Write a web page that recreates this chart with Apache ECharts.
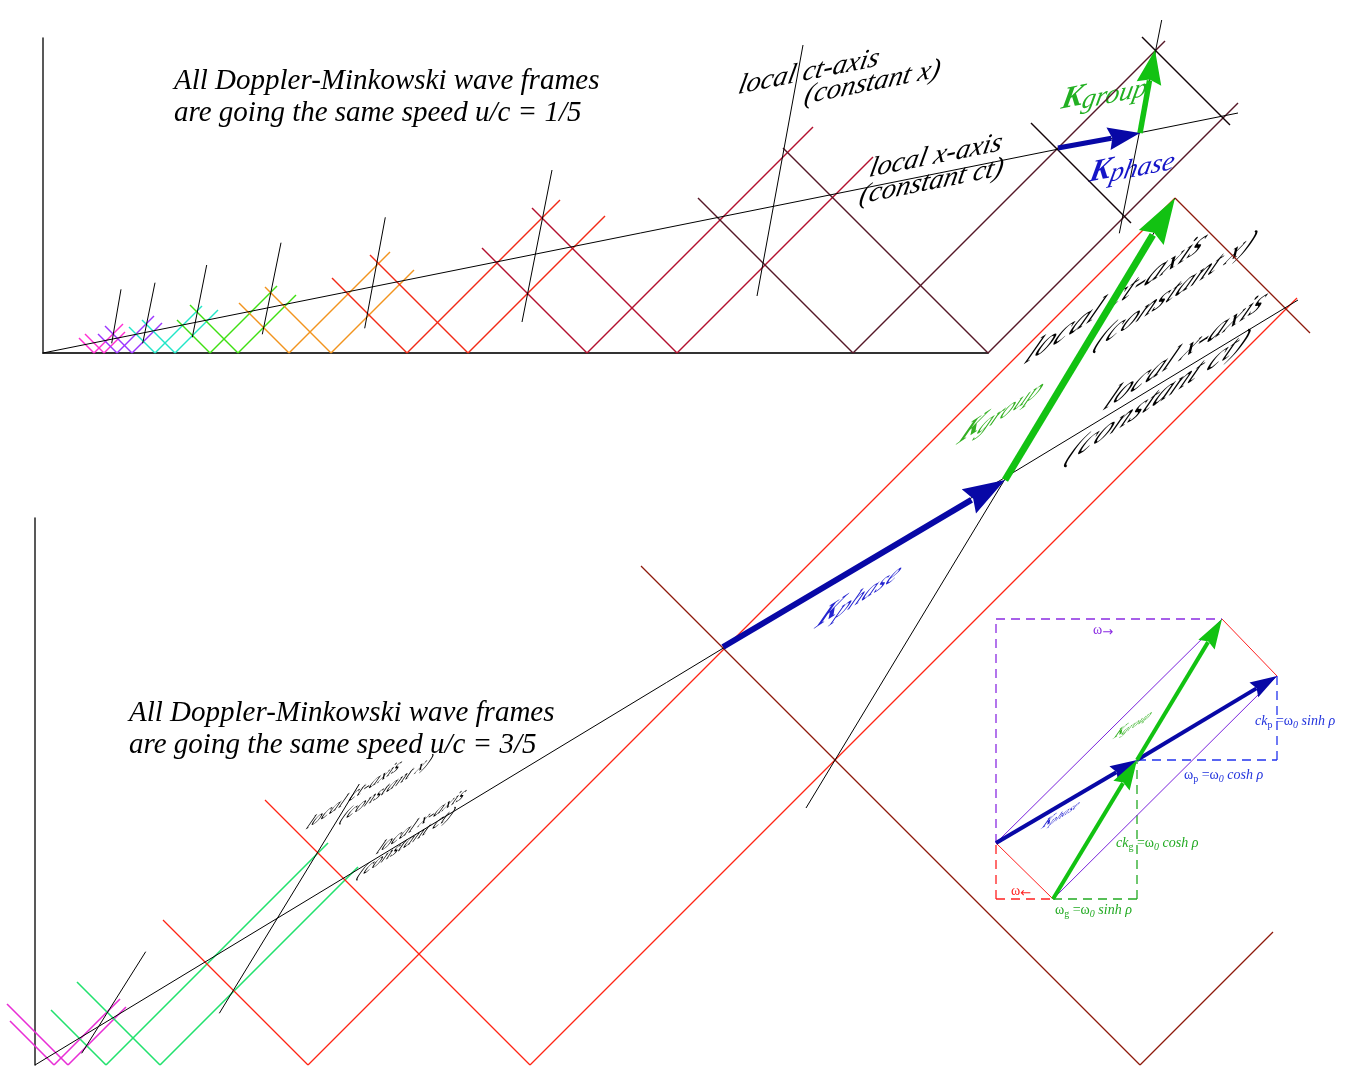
<!DOCTYPE html>
<html>
<head>
<meta charset="utf-8">
<script src="https://cdn.jsdelivr.net/npm/echarts@6/dist/echarts.min.js"></script>
<style>
  html, body { margin: 0; padding: 0; background: #fff; }
  #chart { width: 1353px; height: 1066px; }
</style>
</head>
<body>
<div id="chart"></div>
<script>
// ---------- u/c = 1/5 diagram (units: x and ct from its origin) ----------
// each wave line: [vertex on the x-axis, ct where it starts, ct where it ends]
const slowLeftLines = [
  [[51, 0, 15], [61, 0, 19]],
  [[74, 0, 19], [89, 0, 27]],
  [[112, 0, 26], [132, 0, 33]],
  [[167, 0, 33], [195, 0, 48]],
  [[246, 0, 50], [288, 0, 66]],
  [[364, 0, 75], [425, 0, 98]],
  [[544, 0, 105], [634, 0, 145]],
  [[810, 0, 155], [945, 0, 205]],
  [[1218, 130, 230], [1415, 228, 316]]
];
const slowRightLines = [
  [[51, 0, 29], [61, 0, 21]],
  [[74, 0, 37], [89, 0, 30]],
  [[112, 0, 47], [132, 0, 43]],
  [[167, 0, 67], [195, 0, 58]],
  [[246, 0, 101], [288, 0, 83]],
  [[364, 0, 153], [425, 0, 137]],
  [[544, 0, 226], [634, 0, 196]],
  [[810, 0, 312], [945, 0, 250]],
  []
];
// local ct-axes and the local x-axis: [x1, ct1, x2, ct2]
const slowCtAxes = [
  [68.7, 9.7, 78, 63.7], [99.7, 9.7, 112, 70.3], [149.3, 15.7, 163.7, 88],
  [219.3, 18.7, 238, 110.3], [321.7, 24.7, 342.3, 135.7], [479, 31, 509, 183],
  [714, 57, 760, 308], [1076.3, 119.7, 1118.7, 333]
];
const slowXAxis = [[0, 0, 1195, 240]];
const slowKPhase = [[1015, 205, 1097, 220]];
const slowKGroup = [[1097, 220, 1112, 303]];

// ---------- u/c = 3/5 diagram ----------
const fastLeftLines = [
  [[19, 0, 44], [33, 0, 61]],
  [[71, 0, 55], [125, 0, 83]],
  [[273, 0, 145], [495, 0, 265]],
  [[1105, 0, 499], [2007, 732, 867]]
];
const fastRightLines = [
  [[19, 0, 66], [33, 0, 58]],
  [[71, 0, 222], [125, 0, 198]],
  [[273, 0, 867], [495, 0, 767]],
  [[1105, 0, 133]]
];
const fastCtAxes = [
  [46.7, 11.7, 110.7, 113.3], [184.3, 51.7, 324.3, 281], [771, 257, 1140, 867]
];
const fastXAxis = [[0, 0, 1263, 765]];
const fastKPhase = [[688, 418, 970, 585]];
const fastKGroup = [[970, 585, 1140, 867]];

// ---------- (omega, ck) inset ----------
const insetKPhase = [[0, 56, 141, 139], [141, 139, 281, 223]];
const insetKGroup = [[57, 0, 141, 139], [141, 139, 226, 280]];
const insetLightLines = [[0, 56, 226, 280], [57, 0, 281, 223]];
const insetCrossLines = [[0, 56, 57, 0], [226, 280, 281, 223]];
const insetForwardLegs = [[0, 56, 0, 280], [0, 280, 226, 280]];
const insetBackwardLegs = [[0, 0, 0, 56], [0, 0, 57, 0]];
const insetGroupLegs = [[57, 0, 141, 0], [141, 0, 141, 139]];
const insetPhaseLegs = [[141, 139, 281, 139], [281, 139, 281, 223]];

// ---------- styling ----------
const slowColors = ['#ff2ed2', '#9b35ff', '#22e6c8', '#3fdf12', '#f2941e', '#f22a16', '#b3102f', '#561828', '#140408'];
const fastColors = ['#e82ed6', '#22e26e', '#ff2414', '#8e1a0c'];
const NAVY = '#0808a6', GREEN = '#12c212';
const FONT = '"Liberation Serif", "Times New Roman", serif';

function waveRows(lines, dir) {
  return lines.map(([v, h0, h1]) => [v + dir * h0, h0, v + dir * h1, h1]);
}

function segmentSeries(grid, rows, color, width, dash) {
  return {
    type: 'custom', xAxisIndex: grid, yAxisIndex: grid, data: rows, silent: true, clip: false,
    renderItem(params, api) {
      const p = api.coord([api.value(0), api.value(1)]);
      const q = api.coord([api.value(2), api.value(3)]);
      return {
        type: 'line',
        shape: { x1: p[0], y1: p[1], x2: q[0], y2: q[1] },
        style: { stroke: color, lineWidth: width, lineDash: dash || null, fill: null }
      };
    }
  };
}

function arrowSeries(grid, rows, color, width, headLen, headWid) {
  return {
    type: 'custom', xAxisIndex: grid, yAxisIndex: grid, data: rows, silent: true, clip: false,
    renderItem(params, api) {
      const p = api.coord([api.value(0), api.value(1)]);
      const q = api.coord([api.value(2), api.value(3)]);
      const dx = q[0] - p[0], dy = q[1] - p[1], len = Math.hypot(dx, dy);
      const ux = dx / len, uy = dy / len, nx = -uy, ny = ux;
      const bx = q[0] - ux * headLen, by = q[1] - uy * headLen;
      return {
        type: 'group',
        children: [
          { type: 'line', shape: { x1: p[0], y1: p[1], x2: bx + ux * 3, y2: by + uy * 3 },
            style: { stroke: color, lineWidth: width } },
          { type: 'polygon',
            shape: { points: [[q[0], q[1]],
              [bx + nx * headWid / 2, by + ny * headWid / 2],
              [bx + ux * headLen * 0.12, by + uy * headLen * 0.12],
              [bx - nx * headWid / 2, by - ny * headWid / 2]] },
            style: { fill: color } }
        ]
      };
    }
  };
}

// transform that puts text on a boosted frame: baseline along the local x-axis,
// glyph verticals along the local ct-axis (built as rotate * scale * rotate)
function shearFrame(baseDeg, upDeg, k) {
  const b = baseDeg * Math.PI / 180, u = upDeg * Math.PI / 180;
  const m00 = k * Math.cos(b), m10 = -k * Math.sin(b);
  const m01 = -k * Math.cos(u), m11 = k * Math.sin(u);
  const E = (m00 + m11) / 2, F = (m00 - m11) / 2, G = (m10 + m01) / 2, H = (m10 - m01) / 2;
  const Q = Math.hypot(E, H), R = Math.hypot(F, G);
  const a1 = Math.atan2(G, F), a2 = Math.atan2(H, E);
  return { outerRot: -(a2 + a1) / 2, sx: Q + R, sy: Q - R, innerRot: -(a2 - a1) / 2 };
}

function slanted(x, y, frame, pieces) {
  return {
    type: 'group', x: x, y: y, rotation: frame.outerRot, scaleX: frame.sx, scaleY: frame.sy,
    silent: true, z: 10,
    children: [{
      type: 'group', rotation: frame.innerRot,
      children: pieces.map(p => ({
        type: 'text', x: p.dx || 0, y: (p.dy || 0) - 0.3 * p.size,
        style: {
          text: p.text, font: p.font, fill: p.color,
          align: 'left', verticalAlign: 'middle', textAlign: 'left', textVerticalAlign: 'middle'
        }
      }))
    }]
  };
}

function piece(text, size, style, color, dx, dy) {
  return { text, size, font: `${style} ${size}px ${FONT}`, color: color || '#000', dx, dy };
}

function plainText(x, y, text, size, color) {
  return {
    type: 'text', x, y, silent: true, z: 10,
    style: { text, font: `italic ${size}px ${FONT}`, fill: color || '#000',
      align: 'left', verticalAlign: 'middle', textAlign: 'left', textVerticalAlign: 'middle' }
  };
}

const insetRich = {
  r: { font: `14px ${FONT}`, lineHeight: 18 },
  i: { font: `italic 14px ${FONT}`, lineHeight: 18 },
  s: { font: `10px ${FONT}`, lineHeight: 10, verticalAlign: 'bottom' },
  si: { font: `italic 10px ${FONT}`, lineHeight: 10, verticalAlign: 'bottom' },
  a: { font: `13px "DejaVu Sans", sans-serif`, lineHeight: 12, verticalAlign: 'bottom' }
};
function insetText(x, y, text, color) {
  return {
    type: 'text', x, y, silent: true, z: 10,
    style: { text, fill: color, rich: insetRich, font: `14px ${FONT}`,
      align: 'left', verticalAlign: 'middle', textAlign: 'left', textVerticalAlign: 'middle' }
  };
}

const slowFrame = shearFrame(11.3, 78.7, 1.04);
const fastFrame = shearFrame(33, 59, 1.46);

// ---------- series ----------
const series = [];
slowLeftLines.forEach((lines, i) => {
  series.push(segmentSeries(0, waveRows(lines, -1).concat(waveRows(slowRightLines[i], 1)), slowColors[i], 1.5));
});
series.push(segmentSeries(0, slowCtAxes.concat(slowXAxis), '#000', 1));
fastLeftLines.forEach((lines, i) => {
  series.push(segmentSeries(1, waveRows(lines, -1).concat(waveRows(fastRightLines[i], 1)), fastColors[i], i < 2 ? 1.6 : 1.3));
});
series.push(segmentSeries(1, fastCtAxes.concat(fastXAxis), '#000', 1));

series.push(segmentSeries(2, insetForwardLegs, '#8a2be2', 1.3, [9, 6]));
series.push(segmentSeries(2, insetBackwardLegs, '#ff2020', 1.3, [9, 6]));
series.push(segmentSeries(2, insetGroupLegs, '#22aa22', 1.3, [9, 6]));
series.push(segmentSeries(2, insetPhaseLegs, '#2233ee', 1.3, [9, 6]));
series.push(segmentSeries(2, insetLightLines, '#7a22dd', 1));
series.push(segmentSeries(2, insetCrossLines, '#ff2020', 1));

series.push(arrowSeries(0, slowKPhase, NAVY, 5, 32, 23));
series.push(arrowSeries(0, slowKGroup, GREEN, 5.5, 34, 25));
series.push(arrowSeries(1, fastKPhase, NAVY, 6, 42, 28));
series.push(arrowSeries(1, fastKGroup, GREEN, 7, 46, 29));
series.push(arrowSeries(2, insetKPhase, NAVY, 4, 27, 17));
series.push(arrowSeries(2, insetKGroup, GREEN, 4, 30, 19));

function axis(grid, max, show, color, width) {
  return {
    type: 'value', gridIndex: grid, min: 0, max: max,
    axisLine: { show: show, onZero: false, lineStyle: { color: color, width: width } },
    axisTick: { show: false }, axisLabel: { show: false }, splitLine: { show: false }
  };
}

const graphic = [
  plainText(174, 81, 'All Doppler-Minkowski wave frames', 29),
  plainText(174, 113, 'are going the same speed u/c = 1/5', 29),
  plainText(129, 713, 'All Doppler-Minkowski wave frames', 29),
  plainText(129, 745, 'are going the same speed u/c = 3/5', 29),

  slanted(737, 95, slowFrame, [piece('local ct-axis', 28, 'italic')]),
  slanted(803, 105, slowFrame, [piece('(constant x)', 28, 'italic')]),
  slanted(868, 178, slowFrame, [piece('local x-axis', 28, 'italic')]),
  slanted(858, 205, slowFrame, [piece('(constant ct)', 28, 'italic')]),
  slanted(1060, 110, slowFrame, [piece('K', 31, 'italic bold', '#22b022'), piece('group', 27, 'italic', '#22b022', 21, 4)]),
  slanted(1088, 183, slowFrame, [piece('K', 31, 'italic bold', '#1515c8'), piece('phase', 27, 'italic', '#1515c8', 21, 4)]),

  slanted(1021, 367, fastFrame, [piece('local ct-axis', 29.5, 'italic')]),
  slanted(1091, 352, fastFrame, [piece('(constant x)', 27, 'italic')]),
  slanted(1100, 413, fastFrame, [piece('local x-axis', 28, 'italic')]),
  slanted(1062, 466, fastFrame, [piece('(constant ct)', 29, 'italic')]),
  slanted(955, 446, fastFrame, [piece('K', 26, 'italic bold', '#33b022'), piece('group', 22, 'italic', '#33b022', 18, 4)]),
  slanted(813, 630, fastFrame, [piece('K', 26, 'italic bold', '#2424d0'), piece('phase', 22, 'italic', '#2424d0', 18, 4)]),

  slanted(304, 831, fastFrame, [piece('local ct-axis', 15.5, 'italic')]),
  slanted(338, 824, fastFrame, [piece('(constant x)', 15.5, 'italic')]),
  slanted(374, 856, fastFrame, [piece('local x-axis', 15.5, 'italic')]),
  slanted(355, 880, fastFrame, [piece('(constant ct)', 15.5, 'italic')]),

  slanted(1112, 740, fastFrame, [piece('K', 12, 'italic bold', '#33b022'), piece('group', 10, 'italic', '#33b022', 8, 2)]),
  slanted(1040, 830, fastFrame, [piece('K', 12, 'italic bold', '#2424d0'), piece('phase', 10, 'italic', '#2424d0', 8, 2)]),

  insetText(1093, 630, '{r|ω}{a|→}', '#8a2be2'),
  insetText(1011, 891, '{r|ω}{a|←}', '#ff2020'),
  insetText(1255, 721, '{i|ck}{s|p}{r| =ω}{si|0}{i| sinh ρ}', '#2233dd'),
  insetText(1184, 775, '{r|ω}{s|p}{r| =ω}{si|0}{i| cosh ρ}', '#2233dd'),
  insetText(1116, 843, '{i|ck}{s|g}{r| =ω}{si|0}{i| cosh ρ}', '#22aa22'),
  insetText(1055, 910, '{r|ω}{s|g}{r| =ω}{si|0}{i| sinh ρ}', '#22aa22')
];

const chart = echarts.init(document.getElementById('chart'), null, { renderer: 'canvas', width: 1353, height: 1066 });
chart.setOption({
  animation: false,
  backgroundColor: '#ffffff',
  grid: [
    { left: 43, top: 38, width: 945, height: 315 },
    { left: 35, top: 518, width: 1280, height: 547 },
    { left: 996, top: 619, width: 282, height: 280 }
  ],
  xAxis: [axis(0, 945, true, '#333', 2), axis(1, 1280, false, '#000', 1), axis(2, 282, false, '#000', 1)],
  yAxis: [axis(0, 315, true, '#222', 1.5), axis(1, 547, true, '#222', 1.5), axis(2, 280, false, '#000', 1)],
  series: series,
  graphic: graphic
});
</script>
</body>
</html>
